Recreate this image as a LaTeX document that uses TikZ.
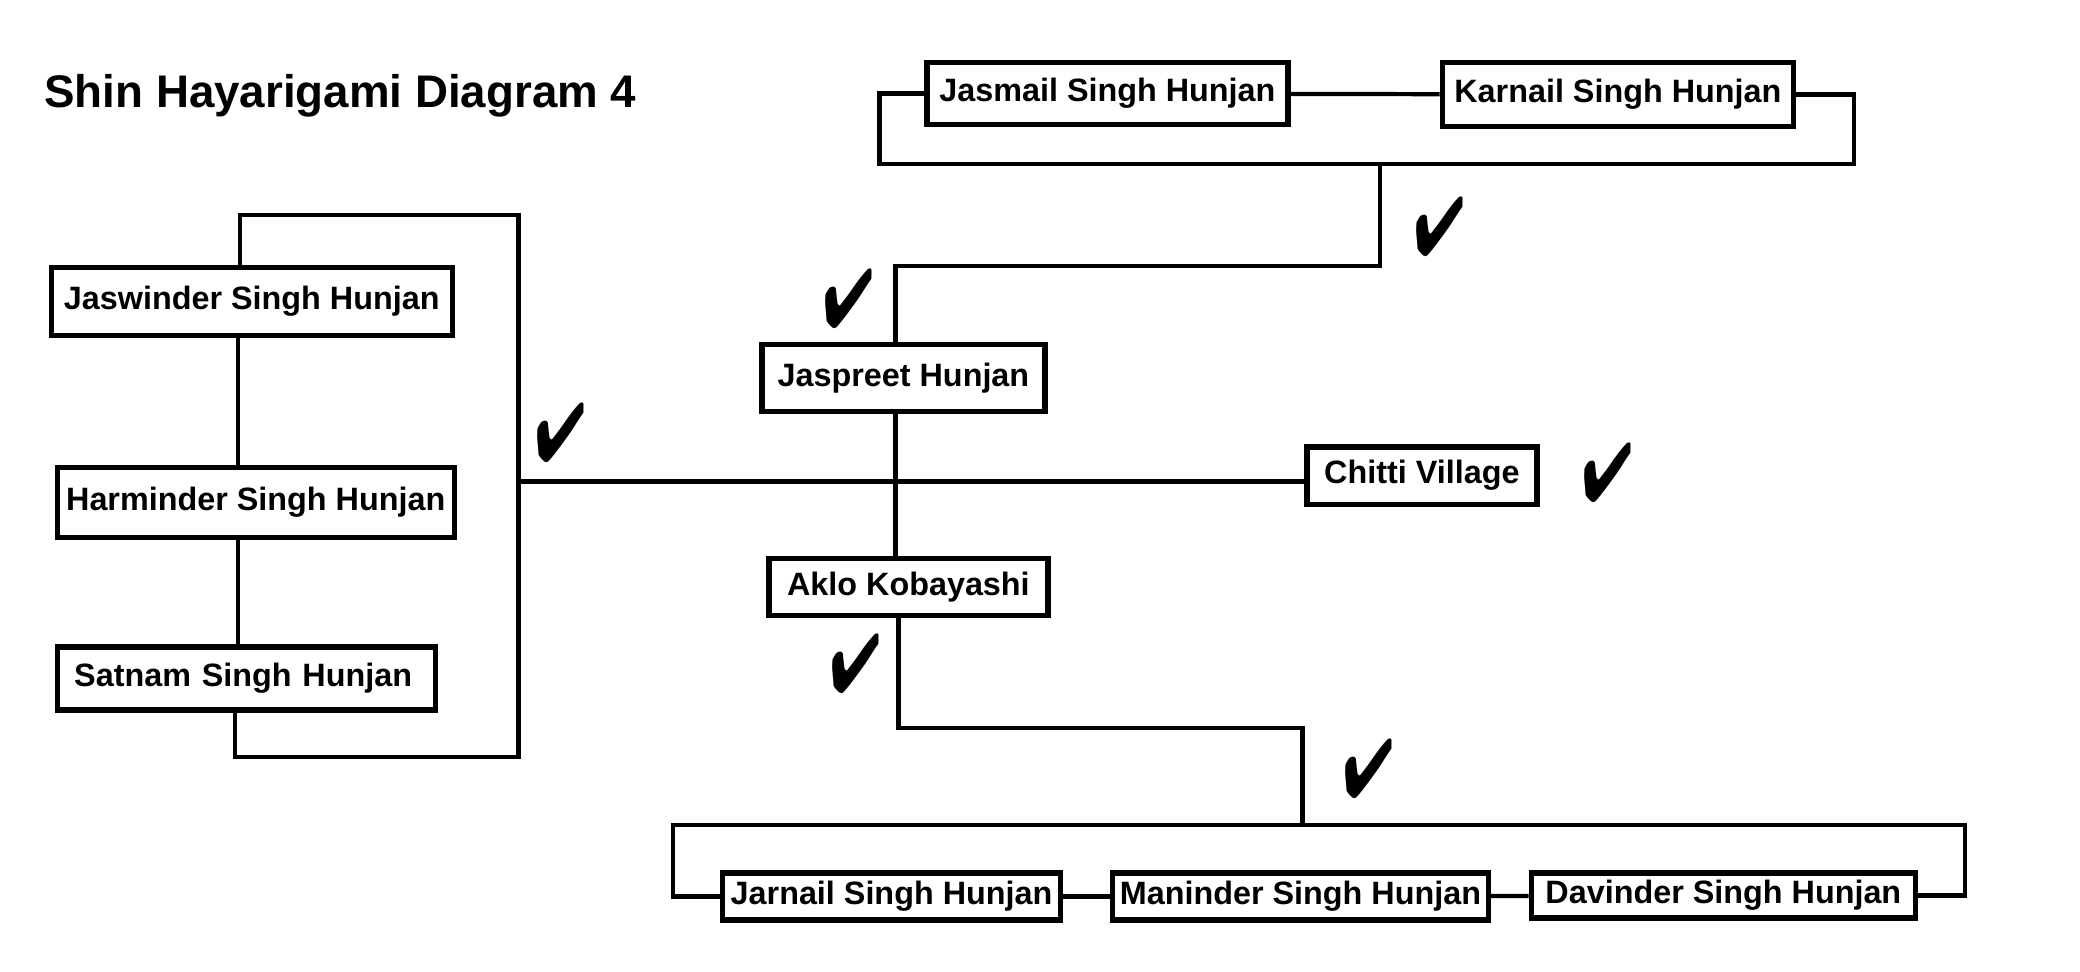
\documentclass[tikz,border=0pt]{standalone}
\usepackage{pifont}
\usepackage{graphicx}
\usepackage{fontspec}
\setmainfont{Liberation Sans}
\newcommand{\tickmark}{\scalebox{0.85}[1.18]{\ding{52}}}

\begin{document}
\begin{tikzpicture}[x=0.00995cm,y=-0.00995cm,
	person node/.style={draw,line width=1.5pt,inner sep=0pt,
		font=\fontsize{9.2}{11}\selectfont\bfseries},
	link/.style={line width=1.2pt},
	tick/.style={inner sep=0pt,font=\fontsize{20}{20}\selectfont}]
	\useasboundingbox (0,0) rectangle (2090.45,975.88);

	\node[anchor=west,inner sep=0pt,font=\fontsize{13}{15}\selectfont\bfseries] (title) at (44,96) {Shin Hayarigami Diagram 4};

	% top couple
	\node[person node,minimum width=3.61cm,minimum height=0.62cm] (jasmail) at (1113,94) {Jasmail Singh Hunjan};
	\node[person node,minimum width=3.51cm,minimum height=0.64cm] (karnail) at (1626,95) {Karnail Singh Hunjan};

	% middle
	\node[person node,minimum width=2.83cm,minimum height=0.67cm] (jaspreet) at (908,380) {Jaspreet Hunjan};
	\node[person node,minimum width=2.79cm,minimum height=0.57cm] (aklo) at (913,590) {Aklo Kobayashi};
	\node[person node,minimum width=2.30cm,minimum height=0.57cm] (chitti) at (1429,478) {Chitti Village};

	% left group
	\node[person node,minimum width=4.01cm,minimum height=0.68cm] (jaswinder) at (253,303) {Jaswinder Singh Hunjan};
	\node[person node,minimum width=3.97cm,minimum height=0.70cm] (harminder) at (257,505) {Harminder Singh Hunjan};
	\node[person node,minimum width=3.78cm,minimum height=0.63cm,text width=3.45cm,align=left] (satnam) at (248,682) {Satnam Singh Hunjan};

	% children
	\node[person node,minimum width=3.38cm,minimum height=0.47cm] (jarnail) at (896,901) {Jarnail Singh Hunjan};
	\node[person node,minimum width=3.76cm,minimum height=0.47cm] (maninder) at (1307,901) {Maninder Singh Hunjan};
	\node[person node,minimum width=3.84cm,minimum height=0.45cm] (davinder) at (1732,900) {Davinder Singh Hunjan};

	\coordinate (parents) at (1387,165);
	\coordinate (jtop) at (900,267);
	\coordinate (abot) at (903,732);
	\coordinate (kids) at (1309,829);
	\coordinate (lefttop) at (521,216);
	\coordinate (leftcorner) at (241,216);
	\coordinate (leftbot) at (521,761);
	\coordinate (leftbotcorner) at (236,761);
	\coordinate (family) at (521,484);
	\coordinate (siblings) at (239,0);

	\path[link]
	(jasmail) edge (karnail)
	(jaswinder.south -| siblings) edge (harminder.north -| siblings)
	(harminder.south -| siblings) edge (satnam.north -| siblings)
	(family) edge (family -| chitti.west)
	(jaspreet.south -| jtop) edge (aklo.north -| jtop)
	(jarnail) edge (maninder)
	(maninder) edge (davinder);

	\draw[link] (jasmail.west) -- ++(-45,0) |- (parents);
	\draw[link] (karnail.east) -- ++(58,0) |- (parents);
	\draw[link] (parents) |- (jtop) -- (jtop |- jaspreet.north);
	\draw[link] (leftcorner |- jaswinder.north) -- (leftcorner) -- (lefttop)
		-- (leftbot) -- (leftbotcorner) -- (leftbotcorner |- satnam.south);
	\draw[link] (aklo.south -| abot) -- (abot) -| (kids);
	\draw[link] (jarnail.west) -- ++(-47,0) |- (kids);
	\draw[link] (davinder.east) -- ++(47,0) |- (kids);

	% ticks
	\node[tick] (tick1) at (1447,228) {\tickmark};
	\node[tick] (tick2) at (853,300) {\tickmark};
	\node[tick] (tick3) at (564,435) {\tickmark};
	\node[tick] (tick4) at (1616,475) {\tickmark};
	\node[tick] (tick5) at (860,667) {\tickmark};
	\node[tick] (tick6) at (1376,773) {\tickmark};

\end{tikzpicture}
\end{document}
